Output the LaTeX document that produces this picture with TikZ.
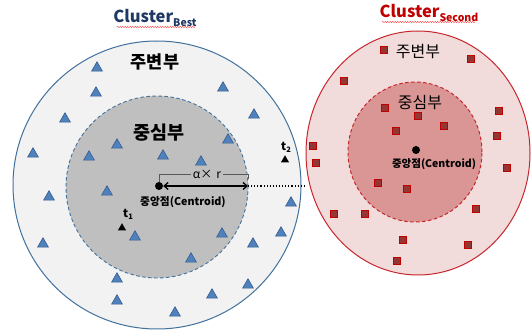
\documentclass[tikz,border=0pt]{standalone}
\usepackage{fontspec}
\setmainfont{Noto Sans CJK KR}
\usetikzlibrary{shapes.geometric,arrows.meta,decorations.pathmorphing}
\definecolor{bline}{HTML}{41719C}
\definecolor{bouterfill}{HTML}{F2F2F2}
\definecolor{binnerfill}{HTML}{BFBFBF}
\definecolor{trifill}{HTML}{4F81BD}
\definecolor{triline}{HTML}{385D8A}
\definecolor{rline}{HTML}{C8262D}
\definecolor{routerfill}{HTML}{F2DCDB}
\definecolor{rinnerfill}{HTML}{D99694}
\definecolor{sqline}{HTML}{C00000}
\definecolor{sqfill}{HTML}{943634}
\definecolor{navy}{HTML}{1F3864}
\definecolor{titlered}{HTML}{C00000}
\definecolor{dimgray}{HTML}{595959}
\tikzset{
  tri/.style={regular polygon, regular polygon sides=3, minimum size=12.5pt, inner sep=0pt, fill=trifill, draw=triline, line width=0.6pt},
  ttri/.style={regular polygon, regular polygon sides=3, minimum size=9.5pt, inner sep=0pt, fill=black},
  sq/.style={rectangle, minimum size=7pt, inner sep=0pt, fill=sqfill, draw=sqline, line width=1.4pt},
  dot/.style={circle, fill=black, minimum size=8pt, inner sep=0pt},
  squiggle/.style={draw=red!80, line width=0.4pt, decorate, decoration={snake, amplitude=0.6pt, segment length=2.5pt}},
  titlefont/.style={font=\bfseries\fontsize{16.5}{16.5}\selectfont, inner sep=0pt},
}
\begin{document}
\begin{tikzpicture}[x=1pt,y=-1pt]
\useasboundingbox (0,0) rectangle (531,331);
\fill[white] (0,0) rectangle (531,331);

% Blue cluster
\draw[bline, fill=bouterfill, line width=1pt] (157,185) circle[radius=144pt];
\draw[bline, fill=binnerfill, line width=0.9pt, dash pattern=on 3.5pt off 2.5pt] (157,187) circle[radius=91pt];

% Red cluster
\draw[rline, fill=routerfill, line width=1pt] (418,153) ellipse[x radius=112pt, y radius=122pt];
\draw[rline, fill=rinnerfill, line width=1pt, dash pattern=on 3.5pt off 2.5pt] (415,152) ellipse[x radius=67pt, y radius=70pt];

% Titles
\node[titlefont, text=navy] (tb) at (155,18) {Cluster\raisebox{-3.5pt}{\fontsize{10.5}{10.5}\selectfont Best}};
\draw[squiggle] (117,27) -- (195,27);
\node[titlefont, text=titlered] (ts) at (429,13) {Cluster\raisebox{-3.5pt}{\fontsize{10.5}{10.5}\selectfont Second}};
\draw[squiggle] (382,22) -- (476,22);

% Blue labels
\node[font=\bfseries\fontsize{17.5}{17.5}\selectfont] (bper) at (155,62) {주변부};
\node[font=\bfseries\fontsize{18.5}{18.5}\selectfont] (bcore) at (159,133) {중심부};

% Blue triangles
\foreach \p [count=\i] in {(97,68),(96,93),(65,119),(33,154),(223,88),(254,115),(117,145),(89,157),(163,156),(201,162),(228,140),
  (49,197),(107,192),(135,237),(43,244),(222,234),(253,244),(281,233),(291,203),(191,259),(117,279),(117,301),(212,295),(248,285),(175,313)}
  \node[tri] (b\i) at \p {};

% t1, t2
\node[ttri] (t1) at (122,228) {};
\node[font=\bfseries\fontsize{11.5}{11.5}\selectfont, inner sep=0pt] (t1l) at (128,214) {t\raisebox{-2pt}{\fontsize{7.5}{7.5}\selectfont 1}};
\node[ttri] (t2) at (285,160) {};
\node[font=\bfseries\fontsize{11.5}{11.5}\selectfont, inner sep=0pt] (t2l) at (286,147) {t\raisebox{-2pt}{\fontsize{7.5}{7.5}\selectfont 2}};

% Centroid and radius
\node[dot] (bc) at (159,186) {};
\node[font=\bfseries\fontsize{10.7}{10.7}\selectfont, inner sep=0pt] (bcl) at (183,202) {중앙점(Centroid)};
\coordinate (edge) at (248,186);
\coordinate (redge) at (306,186);
\draw[line width=1.3pt, {Straight Barb[length=4pt,width=7pt]}-{Straight Barb[length=4pt,width=7pt]}] (bc.east) -- (edge);
\draw[line width=1.1pt, dotted] (edge) -- (redge);
\node[font=\fontsize{12}{12}\selectfont, inner sep=2pt] (alpha) at (207,174) {α×\,\,r};
\coordinate (dl) at (159,174);
\coordinate (dr) at (248,174);
\draw[dimgray, line width=0.5pt] (bc.north) -- (dl) -- (alpha.west);
\draw[dimgray, line width=0.5pt] (alpha.east) -- (dr) -- ([yshift=-5pt]dr);

% Red labels
\node[font=\fontsize{16}{16}\selectfont] (rper) at (418,52) {주변부};
\node[font=\fontsize{16}{16}\selectfont] (rcore) at (420,103) {중심부};
\node[dot] (rc) at (416,150) {};
\node[font=\bfseries\fontsize{10.5}{10.5}\selectfont, inner sep=0pt] (rcl) at (434,164) {중앙점(Centroid)};

% Red squares
\foreach \p [count=\i] in {(384,50),(471,59),(344,81),(385,108),(418,116),(499,111),(444,126),(396,131),(497,136),(313,146),(316,163),(507,168),
  (378,183),(407,189),(334,214),(365,214),(476,209),(403,240),(468,245),(397,261)}
  \node[sq] (r\i) at \p {};
\end{tikzpicture}
\end{document}
